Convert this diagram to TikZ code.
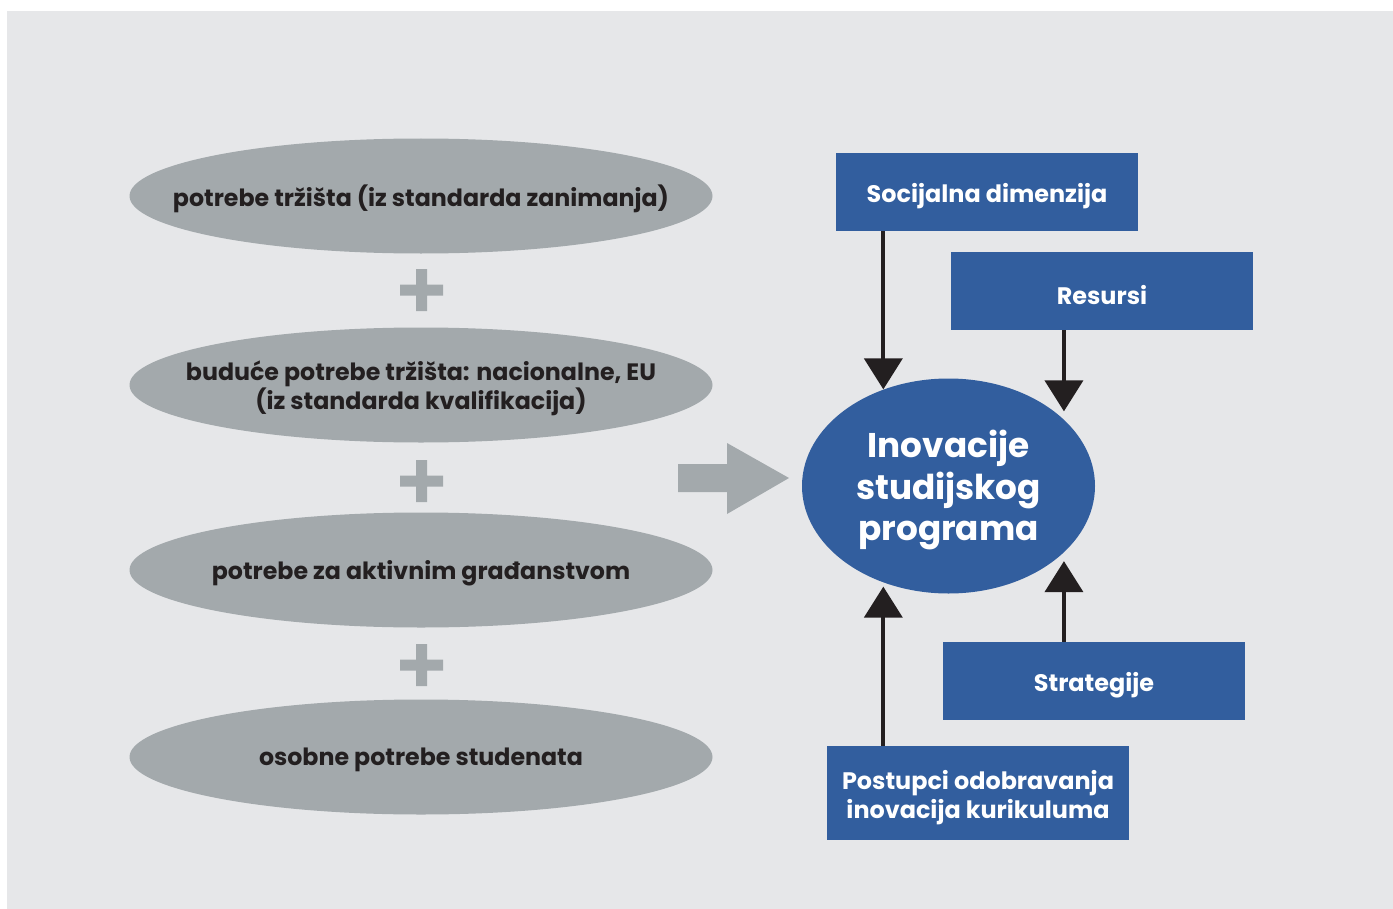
\documentclass[tikz,border=0pt]{standalone}
\usepackage{fontspec}
\setmainfont{Poppins}
\usetikzlibrary{arrows.meta,shapes.geometric}

\definecolor{bgray}{HTML}{E6E7E9}
\definecolor{egray}{HTML}{A3A9AC}
\definecolor{iblue}{HTML}{325E9E}
\definecolor{adark}{HTML}{231F20}

\tikzset{
  need/.style={ellipse, fill=egray, minimum width=583*0.02cm, minimum height=115*0.02cm, inner sep=0pt},
  needtext/.style={align=center, text=adark, yshift=-0.06cm, font=\bfseries\fontsize{13.5}{16.4}\selectfont},
  factor/.style={rectangle, fill=iblue, minimum width=302*0.02cm, minimum height=78*0.02cm, inner sep=0pt},
  factortext/.style={align=center, text=white, yshift=-0.09cm, font=\bfseries\fontsize{13.6}{16.4}\selectfont},
  arr/.style={draw=adark, line width=0.08cm, -{Triangle[width=0.76cm,length=0.62cm]}},
}

\begin{document}
\begin{tikzpicture}[x=0.02cm,y=-0.02cm]
  \useasboundingbox (0,0) rectangle (1393,909);
  \fill [bgray] (7,11) rectangle (1393,909);

  % lijeva strana
  \node [need, label={[needtext]center:potrebe tržišta (iz standarda zanimanja)}] (trz) at (421,196) {};
  \node [need, label={[needtext]center:buduće potrebe tržišta: nacionalne, EU\\(iz standarda kvalifikacija)}] (buduce) at (421,385) {};
  \node [need, label={[needtext]center:potrebe za aktivnim građanstvom}] (gradj) at (421,570) {};
  \node [need, label={[needtext]center:osobne potrebe studenata}] (osobne) at (421,757) {};
  \foreach \y in {290,481,665}
    \fill [egray] (416,\y-21) rectangle ++(11,42) (400,\y-5.5) rectangle ++(43,11);

  \fill [egray] (678,464)--(727,464)--(727,443)--(789,478)--(727,514)--(727,492)--(678,492)--cycle;

  % desna strana
  \node [ellipse, fill=iblue, minimum width=293*0.02cm, minimum height=215*0.02cm, inner sep=0pt,
    label={[align=center, text=white, yshift=-0.08cm, font=\bfseries\fontsize{19.5}{23.5}\selectfont]center:Inovacije\\studijskog\\programa}]
    (inov) at (948.5,486) {};
  \node [factor, label={[factortext]center:Socijalna dimenzija}] (soc) at (987,192) {};
  \node [factor, label={[factortext]center:Resursi}] (res) at (1102,291) {};
  \node [factor, label={[factortext]center:Strategije}] (str) at (1094,681) {};
  \node [factor, minimum height=94*0.02cm, label={[factortext]center:Postupci odobravanja\\inovacija kurikuluma}] (post) at (978,793) {};

  \draw [arr] (inov.124 |- soc.south) -- (inov.124);
  \draw [arr, shorten >=0.16cm] (inov.30.5 |- res.south) -- (inov.30.5);
  \draw [arr, shorten >=0.17cm] (inov.-30.5 |- str.north) -- (inov.-30.5);
  \draw [arr, shorten >=0.08cm] (inov.-124 |- post.north) -- (inov.-124);
\end{tikzpicture}
\end{document}
